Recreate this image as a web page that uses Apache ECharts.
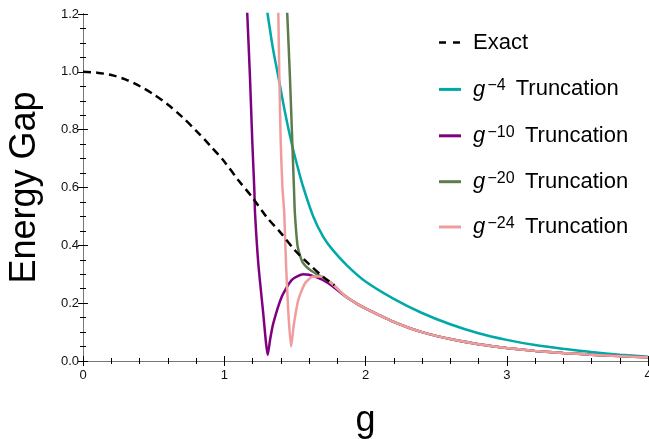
<!DOCTYPE html>
<html>
<head>
<meta charset="utf-8">
<script src="https://cdn.jsdelivr.net/npm/echarts@6/dist/echarts.min.js"></script>
<style>
html,body{margin:0;padding:0;background:#fff;}
#chart{width:649px;height:439px;}
</style>
</head>
<body>
<div id="chart"></div>
<script>
// ---- data: [g, energy gap] ----
const exactData = [
  [0.0,1.000],[0.1,0.997],[0.2,0.989],[0.3,0.974],[0.4,0.951],[0.5,0.922],
  [0.6,0.887],[0.7,0.845],[0.8,0.797],[0.9,0.745],[1.0,0.690],[1.1,0.625],
  [1.2,0.565],[1.3,0.498],[1.4,0.443],[1.5,0.383],[1.6,0.335],[1.7,0.291],[1.78,0.262]
];
const tailData = [
  [1.855,0.225],[1.95,0.195],[2.0,0.182],[2.1,0.158],[2.2,0.135],[2.3,0.116],
  [2.4,0.100],[2.5,0.087],[2.6,0.076],[2.8,0.058],[3.0,0.045],[3.2,0.035],
  [3.4,0.028],[3.6,0.022],[3.8,0.017],[4.0,0.013]
];
const g4Data = [
  [1.275,1.30],[1.307,1.20],[1.345,1.08],[1.383,0.983],[1.43,0.86],[1.477,0.753],
  [1.52,0.67],[1.56,0.60],[1.63,0.50],[1.70,0.43],[1.766,0.385],[1.87,0.33],
  [2.0,0.275],[2.2,0.215],[2.4,0.166],[2.6,0.127],[2.8,0.096],[3.0,0.073],
  [3.2,0.055],[3.4,0.042],[3.6,0.031],[3.8,0.022],[4.0,0.015]
];
const g10Head = [
  [1.155,1.30],[1.163,1.20],[1.182,0.983],[1.199,0.753],[1.213,0.591],[1.218,0.511],
  [1.241,0.338],[1.276,0.165],[1.308,0.021],[1.325,0.075],[1.347,0.130],[1.407,0.222],
  [1.477,0.280],[1.56,0.300],[1.643,0.292],[1.737,0.269]
];
const g20Head = [
  [1.437,1.30],[1.446,1.20],[1.465,0.983],[1.482,0.753],[1.494,0.591],[1.50,0.511],
  [1.52,0.395],[1.553,0.343],[1.607,0.315],[1.666,0.297],[1.69,0.292],[1.76,0.269]
];
const g24Head = [
  [1.380,1.30],[1.383,1.20],[1.39,0.983],[1.40,0.753],[1.412,0.600],[1.425,0.511],
  [1.437,0.338],[1.454,0.165],[1.473,0.050],[1.494,0.130],[1.524,0.211],[1.572,0.269],
  [1.63,0.292],[1.69,0.292],[1.76,0.269]
];
const xTicks = ['0','1','2','3','4'];
const legendLabels = ['Exact','−4','−10','−20','−24'];

const FONT = 'Liberation Sans, Arial, Helvetica, sans-serif';
const colors = {exact:'#000000', g4:'#00A8A8', g10:'#800080', g20:'#5E7B4C', g24:'#F09C9C'};

const chart = echarts.init(document.getElementById('chart'), null, {renderer:'canvas'});

function axisCommon(extra){
  return Object.assign({
    axisLine:{show:true, lineStyle:{color:'#000', width:1}},
    axisTick:{show:true, inside:true, length:5, lineStyle:{color:'#000', width:1}},
    splitLine:{show:false},
    minorSplitLine:{show:false}
  }, extra);
}

const legendRowsY = [42.5, 89.4, 135.8, 181.7, 227];
const graphics = [];
graphics.push({type:'line', shape:{x1:439,y1:legendRowsY[0],x2:461,y2:legendRowsY[0]},
  style:{stroke:colors.exact, lineWidth:2.5, lineDash:[7,7]}});
graphics.push({type:'text', x:473, y:legendRowsY[0], style:{text:legendLabels[0], font:'22px '+FONT, fill:'#000', textVerticalAlign:'middle'}});
const keys = ['g4','g10','g20','g24'];
const truncX = [515.7, 525, 525, 525];
for(let i=0;i<4;i++){
  const y = legendRowsY[i+1];
  graphics.push({type:'line', shape:{x1:439,y1:y,x2:461,y2:y}, style:{stroke:colors[keys[i]], lineWidth:3}});
  graphics.push({type:'text', x:473, y:y, style:{text:'g', font:'italic 22px '+FONT, fill:'#000', textVerticalAlign:'middle'}});
  graphics.push({type:'text', x:487.5, y:y-3.5, style:{text:legendLabels[i+1], font:'16px '+FONT, fill:'#000', textVerticalAlign:'middle'}});
  graphics.push({type:'text', x:truncX[i], y:y, style:{text:'Truncation', font:'22px '+FONT, fill:'#000', textVerticalAlign:'middle'}});
}

const option = {
  animation:false,
  backgroundColor:'#fff',
  grid:{left:83, right:1, top:14, bottom:78, containLabel:false, outerBoundsMode:'none'},
  xAxis:[
    axisCommon({type:'value', min:0, max:4, interval:1, position:'bottom',
      axisLabel:{show:true, margin:8, fontSize:13, color:'#111', fontFamily:FONT, hideOverlap:false,
        formatter:function(v){return xTicks[Math.round(v)];}},
      minorTick:{show:true, inside:true, splitNumber:5, length:3, lineStyle:{color:'#000'}},
      name:'g', nameLocation:'middle', nameGap:42,
      nameTextStyle:{fontSize:36, color:'#000', fontFamily:FONT}}),
    axisCommon({type:'value', min:0, max:4, interval:1, position:'top',
      axisLine:{show:true, lineStyle:{color:'#777', width:1}},
      axisLabel:{show:false},
      minorTick:{show:true, inside:true, splitNumber:5, length:3, lineStyle:{color:'#000'}}})
  ],
  yAxis:[
    axisCommon({type:'value', min:0, max:1.2, interval:0.2, position:'left',
      axisLabel:{show:true, margin:4, fontSize:13, color:'#111', fontFamily:FONT,
        formatter:function(v){return v.toFixed(1);}},
      minorTick:{show:true, inside:true, splitNumber:4, length:3, lineStyle:{color:'#000'}},
      name:'Energy Gap', nameLocation:'middle', nameGap:40,
      nameTextStyle:{fontSize:36, color:'#000', fontFamily:FONT}}),
    axisCommon({type:'value', min:0, max:1.2, interval:0.2, position:'right',
      axisLine:{show:true, lineStyle:{color:'#777', width:1}},
      axisLabel:{show:false},
      minorTick:{show:true, inside:true, splitNumber:4, length:3, lineStyle:{color:'#000'}}})
  ],
  series:[
    {name:'g^-4 Truncation', type:'line', data:g4Data, showSymbol:false, smooth:0.3,
      lineStyle:{color:colors.g4, width:2.5}, z:2, clip:true},
    {name:'g^-10 Truncation', type:'line', data:g10Head.concat(tailData), showSymbol:false, smooth:0.2,
      lineStyle:{color:colors.g10, width:2.5}, z:3, clip:true},
    {name:'g^-20 Truncation', type:'line', data:g20Head.concat(tailData), showSymbol:false, smooth:0.2,
      lineStyle:{color:colors.g20, width:2.5}, z:4, clip:true},
    {name:'g^-24 Truncation', type:'line', data:g24Head.concat(tailData), showSymbol:false, smooth:0.2,
      lineStyle:{color:colors.g24, width:2.5}, z:5, clip:true},
    {name:'Exact', type:'line', data:exactData, showSymbol:false, smooth:0.3,
      lineStyle:{color:colors.exact, width:2.5, type:[8,5]}, z:6, clip:true}
  ],
  graphic:graphics
};
chart.setOption(option);
</script>
</body>
</html>
